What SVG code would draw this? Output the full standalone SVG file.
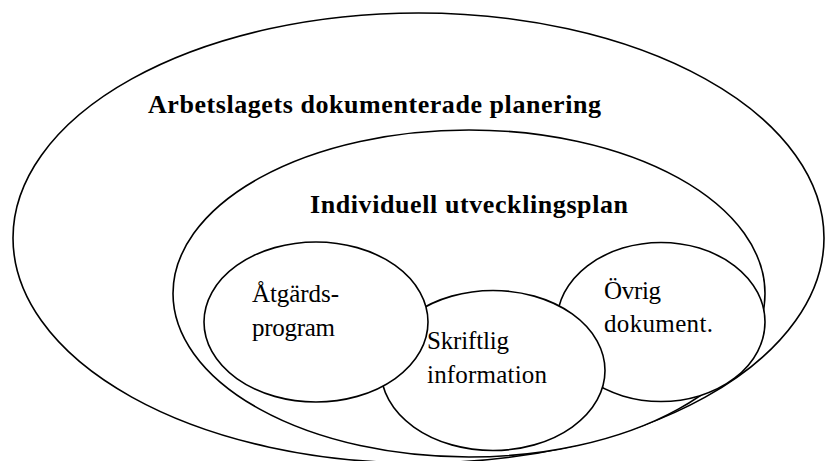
<svg xmlns="http://www.w3.org/2000/svg" width="825" height="461" viewBox="0 0 825 461">
  <style>
    .shape { fill: #ffffff; stroke: #000000; stroke-width: 1.6; }
    .title { font-family: "Liberation Serif", "Times New Roman", serif; font-weight: bold; font-size: 26px; fill: #000000; }
    .label { font-family: "Liberation Serif", "Times New Roman", serif; font-size: 25px; fill: #000000; }
  </style>
  <rect x="0" y="0" width="825" height="461" fill="#ffffff"/>
  <g id="arbetslagets-planering">
    <ellipse class="shape" cx="418.5" cy="238" rx="405.5" ry="225"/>
    <text class="title" x="148" y="113" textLength="453">Arbetslagets dokumenterade planering</text>
  </g>
  <g id="individuell-utvecklingsplan">
    <ellipse class="shape" cx="469" cy="293.5" rx="296" ry="163.5"/>
    <text class="title" x="310" y="213" textLength="318">Individuell utvecklingsplan</text>
  </g>
  <g id="ovrig-dokument">
    <ellipse class="shape" cx="661" cy="322" rx="104" ry="79.5"/>
    <text class="label" x="604" y="299" textLength="57">Övrig</text>
    <text class="label" x="604" y="332" textLength="109">dokument.</text>
  </g>
  <g id="skriftlig-information">
    <ellipse class="shape" cx="493" cy="370.5" rx="112" ry="80"/>
    <text class="label" x="427" y="349" textLength="82">Skriftlig</text>
    <text class="label" x="427" y="383" textLength="120">information</text>
  </g>
  <g id="atgardsprogram">
    <ellipse class="shape" cx="316" cy="322" rx="112" ry="80"/>
    <text class="label" x="252" y="302" textLength="87">Åtgärds-</text>
    <text class="label" x="252" y="336" textLength="83">program</text>
  </g>
  <g id="connectors"/>
</svg>
